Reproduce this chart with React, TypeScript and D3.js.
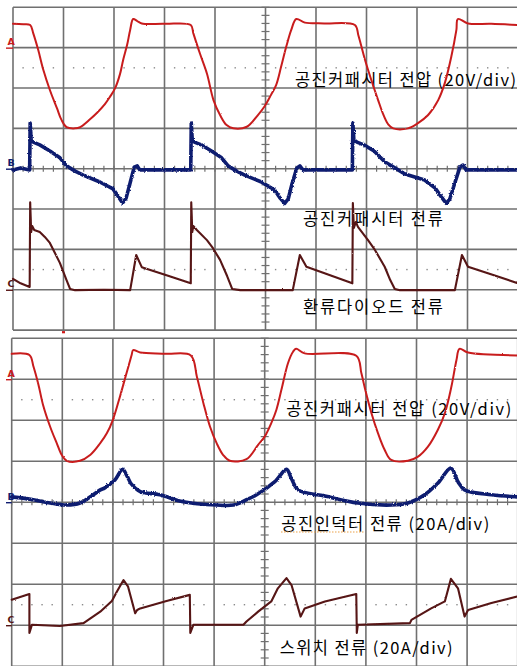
import React from "react";
import * as d3 from "d3";

type Pt = [number, number];

// Time in screen divisions (0–10), amplitude in divisions above each channel's ground marker.
const upperCapVoltage: Pt[] = [
  [0, 0.59], [0.2, 0.58], [0.34, 0.56], [0.4, 0.36], [0.5, -0.06], [0.6, -0.55], [0.73, -1.05], [0.87, -1.5],
  [0.96, -1.79], [1.06, -1.97], [1.23, -2.0], [1.33, -1.97], [1.53, -1.77], [1.66, -1.62], [1.82, -1.4],
  [1.92, -1.22], [2.02, -1.01], [2.12, -0.65], [2.18, -0.31], [2.26, 0.07], [2.32, 0.44], [2.38, 0.71],
  [2.46, 0.66], [2.55, 0.6], [3.01, 0.59], [3.52, 0.56],
  [3.57, 0.36], [3.7, -0.14], [3.84, -0.64], [3.97, -1.3], [4.1, -1.67], [4.23, -1.92], [4.36, -2.0],
  [4.63, -1.96], [4.85, -1.67], [4.98, -1.46], [5.11, -1.17], [5.21, -0.93], [5.31, -0.47], [5.41, 0.02],
  [5.51, 0.44], [5.61, 0.71], [5.78, 0.62], [6.17, 0.6], [6.77, 0.56],
  [6.84, 0.3], [6.97, -0.3], [7.1, -0.82], [7.23, -1.3], [7.33, -1.65], [7.43, -1.9], [7.53, -2.0],
  [7.82, -2.0], [8.02, -1.87], [8.22, -1.67], [8.42, -1.3], [8.55, -0.88], [8.68, -0.22], [8.78, 0.44],
  [8.81, 0.71], [9.01, 0.6], [9.47, 0.59], [9.98, 0.56],
];

const upperCapCurrent: Pt[] = [
  [0, -0.03], [0.15, 0.02], [0.33, -0.03], [0.34, 1.13], [0.36, 0.71], [0.4, 0.66], [0.53, 0.59], [0.73, 0.44],
  [0.93, 0.27], [1.06, 0.07], [1.23, -0.06], [1.39, -0.16], [1.72, -0.33], [1.98, -0.5], [2.08, -0.68],
  [2.17, -0.85], [2.24, -0.73], [2.32, -0.35], [2.4, 0.04], [2.46, 0.07], [2.51, -0.03], [3.0, -0.03], [3.52, -0.03],
  [3.53, 1.13], [3.55, 0.71], [3.59, 0.66], [3.73, 0.59], [3.93, 0.44], [4.13, 0.27], [4.26, 0.07], [4.43, -0.06],
  [4.59, -0.16], [4.92, -0.33], [5.18, -0.53], [5.29, -0.73], [5.38, -0.86], [5.45, -0.75], [5.52, -0.4],
  [5.62, 0.02], [5.68, 0.07], [5.74, -0.03], [6.72, -0.03],
  [6.73, 1.13], [6.75, 0.71], [6.81, 0.66], [6.95, 0.59], [7.15, 0.44], [7.36, 0.17], [7.56, 0.02], [7.76, -0.13],
  [8.15, -0.28], [8.36, -0.48], [8.47, -0.68], [8.58, -0.86], [8.65, -0.75], [8.75, -0.35], [8.85, 0.04],
  [8.91, 0.09], [8.97, -0.03], [9.98, -0.03],
];

const upperDiodeCurrent: Pt[] = [
  [0, 0.27], [0.15, 0.16], [0.33, 0.07], [0.34, 2.17], [0.36, 1.43], [0.38, 1.58], [0.42, 1.48], [0.53, 1.43],
  [0.63, 1.31], [0.73, 1.16], [0.83, 0.91], [0.93, 0.66], [1.06, 0.24], [1.13, 0.02], [1.23, -0.01], [1.8, 0.0],
  [2.32, -0.01], [2.44, 0.86], [2.55, 0.56], [3.04, 0.36], [3.52, 0.16],
  [3.53, 2.17], [3.55, 1.43], [3.57, 1.58], [3.64, 1.48], [3.84, 1.23], [3.96, 1.03], [4.1, 0.74], [4.24, 0.34],
  [4.34, 0.02], [4.5, -0.01], [5.54, -0.01], [5.68, 0.86], [5.81, 0.57], [6.28, 0.36], [6.72, 0.16],
  [6.73, 2.15], [6.75, 1.53], [6.79, 1.68], [6.83, 1.56], [7.03, 1.23], [7.17, 0.98], [7.36, 0.57], [7.47, 0.24],
  [7.56, 0.02], [7.66, -0.01], [8.75, -0.01], [8.89, 0.86], [9.01, 0.57], [9.45, 0.39], [9.98, 0.17],
];

const lowerCapVoltage: Pt[] = [
  [0, 0.62], [0.35, 0.59], [0.43, 0.31], [0.53, -0.14], [0.62, -0.63], [0.76, -1.16], [0.89, -1.56], [0.99, -1.85],
  [1.09, -1.99], [1.35, -1.99], [1.55, -1.85], [1.75, -1.56], [1.88, -1.32], [2.0, -0.99], [2.14, -0.42],
  [2.27, 0.15], [2.37, 0.59], [2.4, 0.71], [2.54, 0.65], [3.06, 0.62], [3.54, 0.58],
  [3.66, 0.06], [3.79, -0.59], [3.92, -1.16], [4.05, -1.56], [4.18, -1.85], [4.31, -1.99], [4.64, -1.95],
  [4.87, -1.6], [5.0, -1.4], [5.13, -1.07], [5.23, -0.75], [5.33, -0.26], [5.46, 0.39], [5.56, 0.67], [5.62, 0.74],
  [5.79, 0.63], [6.81, 0.57],
  [6.91, 0.15], [6.98, -0.22], [7.11, -0.83], [7.24, -1.32], [7.37, -1.72], [7.5, -1.97], [7.83, -1.99],
  [8.03, -1.89], [8.23, -1.64], [8.42, -1.24], [8.56, -0.83], [8.69, -0.18], [8.79, 0.47], [8.85, 0.74],
  [9.02, 0.65], [9.99, 0.58],
];

const lowerInductorCurrent: Pt[] = [
  [0, 0.13], [0.43, 0.06], [0.76, -0.02], [1.09, -0.07], [1.35, -0.02], [1.61, 0.18], [1.75, 0.3], [1.84, 0.35],
  [2.04, 0.54], [2.19, 0.8], [2.28, 0.64], [2.36, 0.45], [2.54, 0.26], [2.93, 0.18], [3.39, 0.01], [4.05, -0.07],
  [4.38, -0.07], [4.64, 0.06], [4.84, 0.18], [5.2, 0.5], [5.43, 0.8], [5.53, 0.57], [5.66, 0.3], [6.19, 0.15],
  [6.84, -0.02], [7.5, -0.07], [7.83, -0.02], [8.16, 0.18], [8.42, 0.46], [8.68, 0.83], [8.82, 0.5], [8.95, 0.3],
  [9.48, 0.18], [9.99, 0.13],
];

const lowerSwitchCurrent: Pt[] = [
  [0, 0.62], [0.35, 0.76], [0.35, -0.19], [0.4, 0.01], [0.95, -0.02], [1.42, 0.05], [1.75, 0.33], [1.98, 0.59],
  [2.08, 0.82], [2.21, 1.1], [2.3, 0.94], [2.44, 0.29], [2.48, 0.37], [2.54, 0.41], [3.06, 0.59], [3.52, 0.74],
  [3.53, -0.19], [3.59, 0.01], [4.58, 0.01], [4.64, 0.09], [4.87, 0.33], [5.13, 0.58], [5.26, 0.9], [5.43, 1.15],
  [5.53, 0.98], [5.71, 0.21], [5.79, 0.41], [6.19, 0.58], [6.81, 0.76],
  [6.82, -0.19], [6.84, 0.01], [7.87, 0.05], [7.9, 0.13], [8.29, 0.41], [8.56, 0.58], [8.68, 1.13], [8.82, 0.9],
  [8.95, 0.21], [9.02, 0.37], [9.48, 0.54], [9.99, 0.7],
];

const upperLabels = ["공진커패시터 전압 (20V/div)", "공진커패시터 전류", "환류다이오드 전류"];
const lowerLabels = ["공진커패시터 전압 (20V/div)", "공진인덕터 전류 (20A/div)", "스위치 전류 (20A/div)"];
const channelNames = ["A", "B", "C"];
const channelGround = [3, 0, -3];

const channelColors = ["#c81c1e", "#0f1d70", "#561414"];
const traceWidths = [2.0, 3.6, 2.1];
const traceJitter = [1.6, 2.6, 1.6];
const gridColor = "#707070";

interface LabelPos { x: number; y: number; w: number }

interface PanelProps {
  id: string;
  left: number;
  top: number;
  divX: number;
  divY: number;
  traces: Pt[][];
  smooth: boolean[];
  labels: string[];
  labelPos: LabelPos[];
  marker?: number;
}

function Panel({ id, left, top, divX, divY, traces, smooth, labels, labelPos, marker }: PanelProps) {
  const x = d3.scaleLinear().domain([0, 10]).range([left, left + 10 * divX]);
  const y = d3.scaleLinear().domain([-4, 4]).range([top + 8 * divY, top]);
  const x0 = x(5);
  const y0 = y(0);
  const minor = d3.range(0, 50.001, 1).map((k) => k / 5);
  const minorV = d3.range(-20, 20.001, 1).map((k) => k / 5);
  const dotXs = minor.filter((t) => Math.abs(t - Math.round(t)) > 0.01);

  return (
    <g>
      <defs>
        {traceJitter.map((s, c) => (
          <filter key={c} id={`${id}-noise-${c}`} x="-2%" y="-10%" width="104%" height="120%">
            <feTurbulence type="fractalNoise" baseFrequency="0.9 0.6" numOctaves={2} seed={3 + c} result="n" />
            <feDisplacementMap in="SourceGraphic" in2="n" scale={s} xChannelSelector="R" yChannelSelector="G" />
          </filter>
        ))}
      </defs>
      {d3.range(0, 11).map((i) => (
        <line key={"v" + i} x1={x(i)} x2={x(i)} y1={y(4)} y2={y(-4)} stroke={gridColor} strokeWidth={1.6} />
      ))}
      {d3.range(-4, 5).map((j) => (
        <line key={"h" + j} x1={x(0)} x2={x(10)} y1={y(j)} y2={y(j)} stroke={gridColor} strokeWidth={1.6} />
      ))}
      {minor.map((t, k) => (
        <line key={"tx" + k} x1={x(t)} x2={x(t)} y1={y0 - 3} y2={y0 + 3} stroke={gridColor} strokeWidth={1.2} />
      ))}
      {minorV.map((v, k) => (
        <line key={"ty" + k} x1={x0 - 4} x2={x0 + 4} y1={y(v)} y2={y(v)} stroke={gridColor} strokeWidth={1.2} />
      ))}
      {[2.5, -2.5].map((lvl) =>
        dotXs.map((t, k) => (
          <rect key={"d" + lvl + "-" + k} x={x(t) - 0.7} y={y(lvl) - 0.7} width={1.4} height={1.4} fill="#8a8a8a" />
        ))
      )}
      {labels.map((s, i) => (
        <text
          key={"l" + i}
          x={labelPos[i].x}
          y={labelPos[i].y}
          textLength={labelPos[i].w}
          lengthAdjust="spacing"
          fontFamily="'Noto Sans CJK KR', 'Noto Sans', sans-serif"
          fontSize={16.5}
          fill="#000"
        >
          {s}
        </text>
      ))}
      {traces.map((data, c) => {
        const line = d3
          .line<Pt>()
          .x((d) => x(d[0]))
          .y((d) => y(d[1] + channelGround[c]))
          .curve(smooth[c] ? d3.curveCatmullRom.alpha(0.5) : d3.curveLinear);
        return (
          <path
            key={"tr" + c}
            d={line(data) || ""}
            fill="none"
            stroke={channelColors[c]}
            strokeWidth={traceWidths[c]}
            strokeLinejoin="round"
            strokeLinecap="round"
            filter={`url(#${id}-noise-${c})`}
          />
        );
      })}
      {channelNames.map((n, c) => {
        const gy = y(channelGround[c]);
        return (
          <g key={"m" + c}>
            <text
              x={7.5}
              y={gy - 2.5}
              fontFamily="'DejaVu Sans', sans-serif"
              fontWeight="bold"
              fontSize={9.5}
              fill={channelColors[c]}
            >
              {n}
            </text>
            <line x1={6} x2={left} y1={gy + 0.5} y2={gy + 0.5} stroke={channelColors[c]} strokeWidth={1.4} />
          </g>
        );
      })}
      {marker !== undefined && (
        <rect x={x(marker) - 1.5} y={y(-4) + 1} width={3} height={2.2} fill="#d01818" />
      )}
    </g>
  );
}

export default function App() {
  return (
    <div style={{ position: "absolute", left: 0, top: 0, width: 517, height: 666, background: "#fff" }}>
      <svg width={517} height={666} style={{ display: "block" }}>
        <rect x={0} y={0} width={517} height={666} fill="#fff" />
        <Panel
          id="upper"
          left={13}
          top={7.3}
          divX={50.5}
          divY={40.35}
          traces={[upperCapVoltage, upperCapCurrent, upperDiodeCurrent]}
          smooth={[true, false, false]}
          labels={upperLabels}
          labelPos={[
            { x: 295, y: 85.5, w: 221 },
            { x: 303, y: 224.5, w: 140 },
            { x: 303, y: 312.8, w: 140 },
          ]}
          marker={1}
        />
        <Panel
          id="lower"
          left={11.7}
          top={338.2}
          divX={50.6}
          divY={41}
          traces={[lowerCapVoltage, lowerInductorCurrent, lowerSwitchCurrent]}
          smooth={[true, true, false]}
          labels={lowerLabels}
          labelPos={[
            { x: 286.3, y: 414.5, w: 225 },
            { x: 281.3, y: 529.5, w: 208 },
            { x: 279.7, y: 654, w: 173 },
          ]}
        />
        {/* dotted spell-check style underline beneath the inductor label */}
        <line x1={281} x2={365} y1={532} y2={532} stroke="#eba24a" strokeWidth={1.2} strokeDasharray="1.5 1.5" />
      </svg>
    </div>
  );
}
